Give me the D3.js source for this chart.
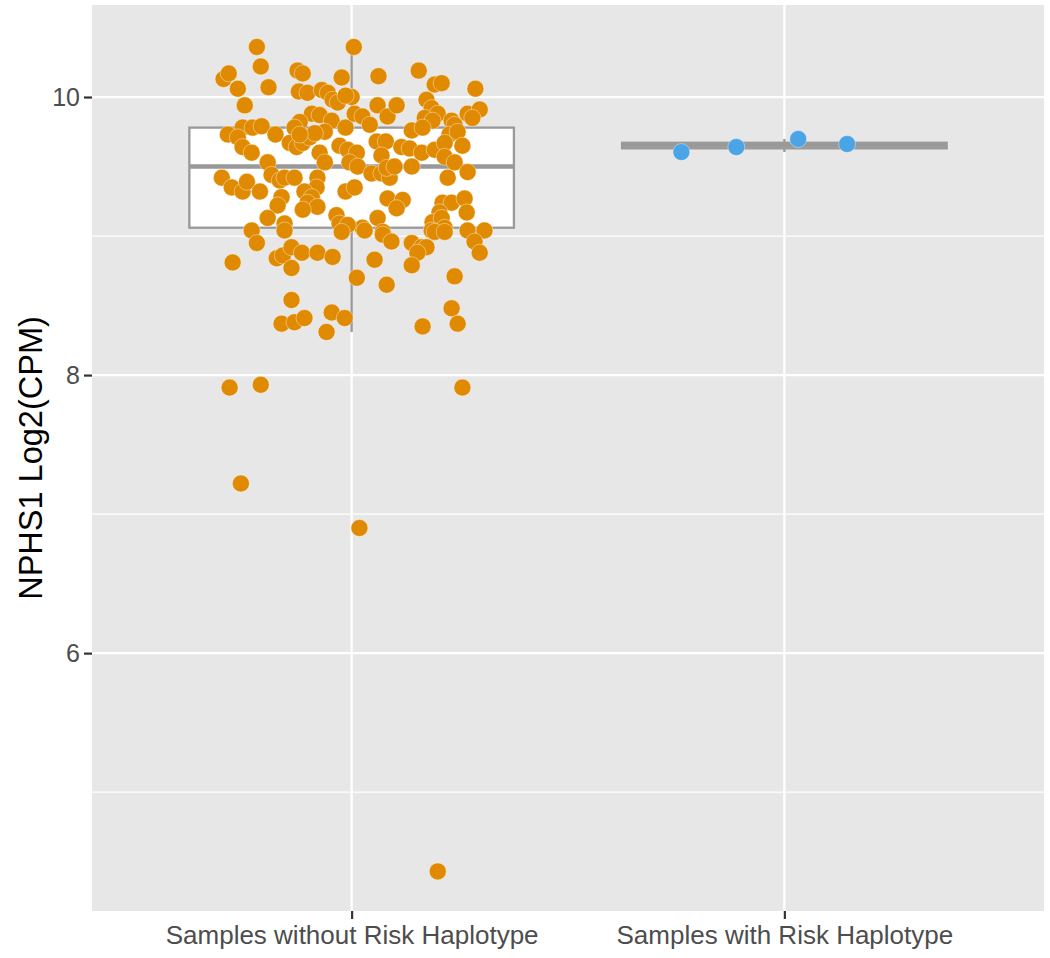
<!DOCTYPE html>
<html>
<head>
<meta charset="utf-8">
<script src="https://cdn.jsdelivr.net/npm/d3@7"></script>
<style>
  body { margin: 0; background: #fff; }
  text { font-family: "Liberation Sans", Arial, Helvetica, sans-serif; }
</style>
</head>
<body>
<div id="container"></div>
<script>
const categories = ["Samples without Risk Haplotype", "Samples with Risk Haplotype"]
const colors = ["#E08A02", "#4AA4E6"]

// NPHS1 log2(CPM) per sample, with horizontal jitter (in category units)
const withoutValues = [
  10.36,10.36,10.22,10.13,10.17,10.19,10.17,10.19,10.06,10.07,
  10.14,10.15,10.09,10.10,10.04,10.03,10.05,10.03,10.06,10.00,
  9.94,9.98,9.96,10.01,9.88,9.87,9.83,9.82,9.78,9.78,
  9.78,9.79,9.73,9.73,9.75,9.78,9.94,9.86,9.94,9.98,
  9.92,9.88,9.88,9.86,9.80,9.85,9.83,9.83,9.80,9.88,
  9.91,9.85,9.76,9.78,9.68,9.68,9.73,9.71,9.64,9.60,
  9.67,9.64,9.67,9.71,9.74,9.73,9.60,9.53,9.65,9.62,
  9.42,9.35,9.32,9.39,9.32,9.53,9.44,9.40,9.42,9.42,
  9.42,9.35,9.32,9.28,9.32,9.28,9.22,9.24,9.21,9.19,
  9.13,9.09,9.15,9.09,9.04,9.58,9.64,9.63,9.60,9.62,
  9.67,9.75,9.65,9.60,9.53,9.50,9.45,9.45,9.42,9.49,
  9.50,9.50,9.57,9.53,9.42,9.46,9.35,9.27,9.26,9.20,
  9.24,9.24,9.27,9.17,9.17,9.10,9.13,9.04,9.06,9.13,
  9.06,9.08,9.03,9.04,9.04,8.95,9.04,8.81,8.84,8.86,
  8.92,8.88,8.77,8.88,8.85,9.03,8.54,8.37,8.38,8.41,
  8.31,8.45,8.41,9.04,9.01,8.96,8.95,8.92,8.92,8.88,
  9.03,9.03,8.96,8.88,8.83,8.79,8.70,8.65,8.71,8.48,
  8.37,8.35,7.91,7.93,7.22,6.90,7.91,4.43
]
const withoutJitter = [
  -0.219,0.005,-0.210,-0.296,-0.284,-0.125,-0.113,0.155,-0.263,-0.192,
  -0.023,0.062,0.192,0.208,-0.122,-0.102,-0.069,-0.055,0.286,0.000,
  -0.247,-0.044,-0.032,-0.014,-0.092,-0.074,-0.046,-0.120,-0.132,-0.252,
  -0.229,-0.208,-0.286,-0.176,-0.062,-0.014,0.060,0.083,0.104,0.173,
  0.185,0.199,0.007,0.025,0.042,0.169,0.187,0.231,0.238,0.268,
  0.296,0.279,0.139,0.164,0.058,0.079,0.226,-0.263,-0.252,-0.231,
  -0.143,-0.127,-0.113,-0.097,-0.085,-0.120,-0.074,-0.062,-0.028,-0.009,
  -0.300,-0.277,-0.252,-0.242,-0.212,-0.194,-0.185,-0.166,-0.155,-0.132,
  -0.079,-0.081,-0.109,-0.092,-0.014,-0.162,-0.171,-0.102,-0.079,-0.113,
  -0.194,-0.155,-0.035,-0.028,-0.231,0.069,0.115,0.134,0.162,0.192,
  0.215,0.245,0.256,0.012,-0.005,0.014,0.046,0.069,0.088,0.081,
  0.099,0.139,0.215,0.238,0.222,0.268,0.007,0.083,0.118,0.104,
  0.210,0.231,0.261,0.266,0.203,0.187,0.208,0.185,0.215,0.060,
  0.025,-0.009,0.072,0.268,0.307,-0.219,-0.155,-0.275,-0.173,-0.159,
  -0.139,-0.115,-0.139,-0.079,-0.044,-0.023,-0.139,-0.162,-0.132,-0.109,
  -0.058,-0.046,-0.016,0.030,0.072,0.092,0.139,0.162,0.173,0.152,
  0.192,0.215,0.284,0.296,0.053,0.139,0.012,0.081,0.238,0.231,
  0.245,0.164,-0.282,-0.210,-0.256,0.018,0.256,0.199
]
const withValues = [9.604, 9.640, 9.698, 9.662]
const withJitter = [-0.238, -0.111, 0.032, 0.145]

// box stats: [lower whisker, q1, median, q3, upper whisker]
const boxWithout = [8.31, 9.06, 9.50, 9.78, 10.36]
const boxWith = [9.604, 9.631, 9.651, 9.671, 9.698]

const yTicks = [6, 8, 10]
const yMinor = [5, 7, 9]

const width = 1050
const height = 958
const panel = {left: 92, right: 1044, top: 5, bottom: 911}

const svg = d3.create("svg")
  .attr("width", width)
  .attr("height", height)

const x = d3.scalePoint()
  .domain(categories)
  .range([panel.left, panel.right])
  .padding(0.6)

const y = d3.scaleLinear()
  .domain([4.145, 10.662])
  .range([panel.bottom, panel.top])

svg.append("rect")
  .attr("x", panel.left)
  .attr("y", panel.top)
  .attr("width", panel.right - panel.left)
  .attr("height", panel.bottom - panel.top)
  .attr("fill", "#E7E7E7")

const grid = svg.append("g")
grid.selectAll(".minor")
  .data(yMinor)
  .enter()
  .append("line")
  .attr("x1", panel.left).attr("x2", panel.right)
  .attr("y1", d => y(d)).attr("y2", d => y(d))
  .attr("stroke", "#fff").attr("stroke-width", 1.2)
grid.selectAll(".major")
  .data(yTicks)
  .enter()
  .append("line")
  .attr("x1", panel.left).attr("x2", panel.right)
  .attr("y1", d => y(d)).attr("y2", d => y(d))
  .attr("stroke", "#fff").attr("stroke-width", 2.3)
grid.selectAll(".vmajor")
  .data(categories)
  .enter()
  .append("line")
  .attr("x1", d => x(d)).attr("x2", d => x(d))
  .attr("y1", panel.top).attr("y2", panel.bottom)
  .attr("stroke", "#fff").attr("stroke-width", 2.3)

// boxplots
const boxes = [boxWithout, boxWith]
const boxW = 0.75 * x.step()
const boxG = svg.append("g")
boxes.forEach((b, i) => {
  const cx = x(categories[i])
  const g = boxG.append("g")
  g.append("line")
    .attr("x1", cx).attr("x2", cx)
    .attr("y1", y(b[0])).attr("y2", y(b[4]))
    .attr("stroke", "#999").attr("stroke-width", 2.3)
  g.append("rect")
    .attr("x", cx - boxW / 2)
    .attr("y", y(b[3]))
    .attr("width", boxW)
    .attr("height", y(b[1]) - y(b[3]))
    .attr("fill", "#fff")
    .attr("stroke", "#999").attr("stroke-width", 2.3)
  g.append("line")
    .attr("x1", cx - boxW / 2).attr("x2", cx + boxW / 2)
    .attr("y1", y(b[2])).attr("y2", y(b[2]))
    .attr("stroke", "#999").attr("stroke-width", 4.6)
})

// jittered points
const points = []
withoutValues.forEach((v, i) => points.push({cat: categories[0], v: v, j: withoutJitter[i], c: colors[0]}))
withValues.forEach((v, i) => points.push({cat: categories[1], v: v, j: withJitter[i], c: colors[1]}))

svg.append("g")
  .selectAll("circle")
  .data(points)
  .enter()
  .append("circle")
  .attr("cx", d => x(d.cat) + d.j * x.step())
  .attr("cy", d => y(d.v))
  .attr("r", 8.5)
  .attr("fill", d => d.c)
  .attr("stroke", "#fff")
  .attr("stroke-opacity", 0.5)
  .attr("stroke-width", 0.8)

// axes
const yAxis = svg.append("g")
  .attr("transform", `translate(${panel.left},0)`)
  .call(d3.axisLeft(y).tickValues(yTicks).tickSize(8).tickPadding(4).tickFormat(d3.format("d")))
yAxis.select(".domain").remove()
yAxis.selectAll(".tick line").attr("stroke", "#333").attr("stroke-width", 2.2)
yAxis.selectAll(".tick text")
  .attr("fill", "#4D4D4D")
  .style("font-size", "25px")
  .style("font-family", "'Liberation Sans', Arial, sans-serif")

const xAxis = svg.append("g")
  .attr("transform", `translate(0,${panel.bottom})`)
  .call(d3.axisBottom(x).tickSize(8).tickPadding(7))
xAxis.select(".domain").remove()
xAxis.selectAll(".tick line").attr("stroke", "#333").attr("stroke-width", 2.2)
xAxis.selectAll(".tick text")
  .attr("fill", "#4D4D4D")
  .style("font-size", "26px")
  .style("font-family", "'Liberation Sans', Arial, sans-serif")

svg.append("text")
  .attr("transform", `translate(42,${(panel.top + panel.bottom) / 2}) rotate(-90)`)
  .attr("text-anchor", "middle")
  .attr("fill", "#000")
  .style("font-size", "32.5px")
  .text("NPHS1 Log2(CPM)")

document.querySelector("#container").appendChild(svg.node())
</script>
</body>
</html>
